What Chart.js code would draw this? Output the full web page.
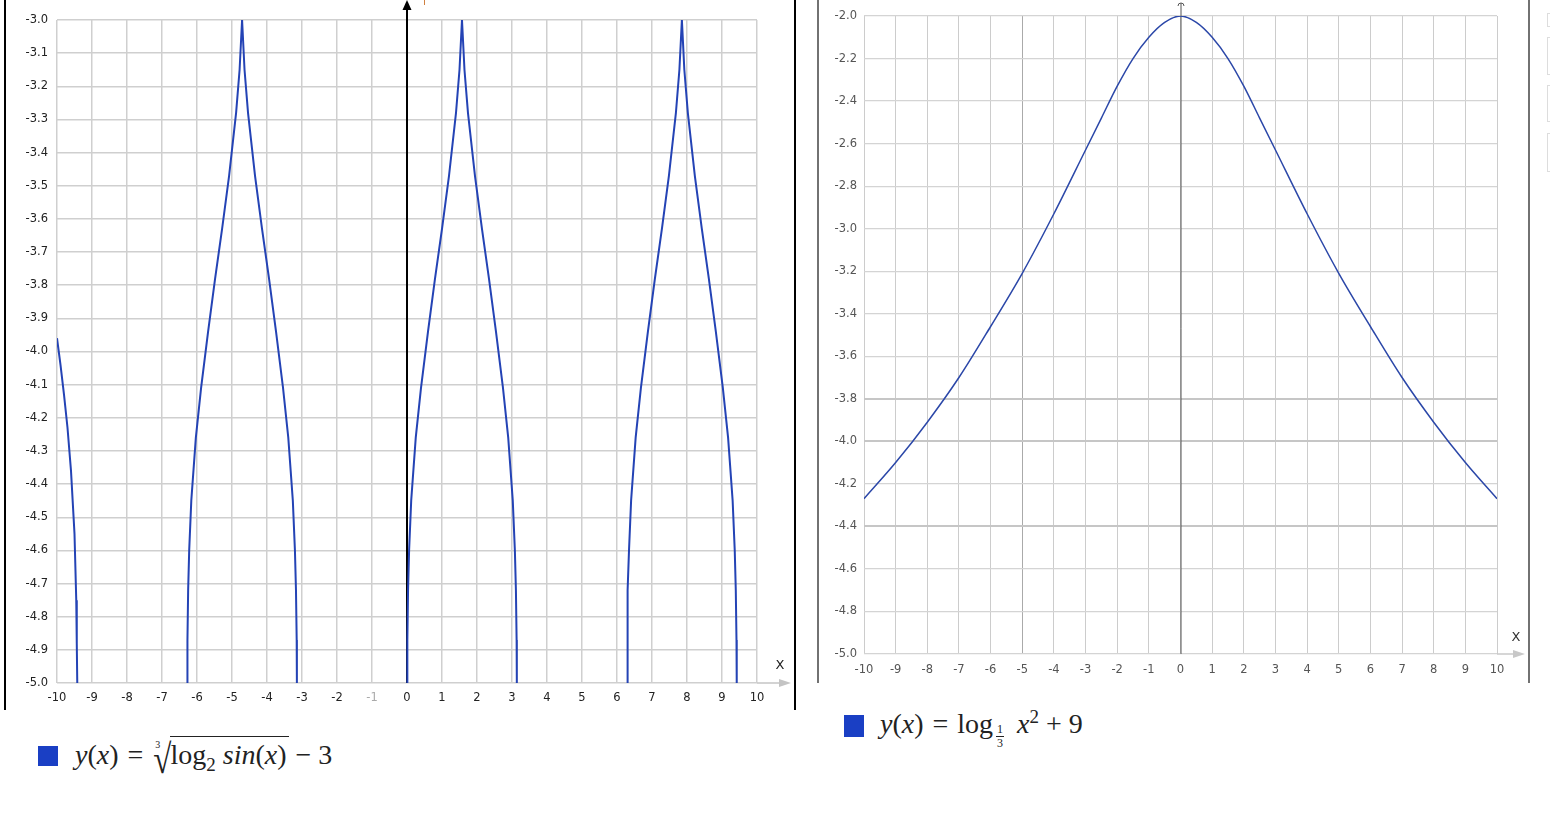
<!DOCTYPE html>
<html lang="en">
<head>
    <meta charset="UTF-8">
    <title>Function graphs</title>
    <script src="https://cdn.jsdelivr.net/npm/chart.js"></script>
    <style>
        body { margin: 0; background: #fff; width: 1550px; height: 819px; overflow: hidden; position: relative; }
        canvas { position: absolute; top: 0; }
        #leftChart { left: 0; }
        #rightChart { left: 800px; }
        .leg { position: absolute; white-space: nowrap; font-family: "Liberation Serif", "DejaVu Serif", serif; color: #222; }
        .sw { position: absolute; width: 20px; height: 20px; background: #1a3fc4; }
        .f { position: absolute; font-size: 28px; }
        .f i { font-style: italic; }
        .rel { margin: 0 9px; }
        .bin { margin: 0 7px; }
        .idx { font-size: 10px; vertical-align: 16px; margin-right: -7px; margin-left: 3px; }
        .sq { font-size: 33px; display: inline-block; transform: scaleY(1.25); vertical-align: -6px; margin-right: 1px; }
        .ov { border-top: 1.5px solid #222; padding-top: 2px; margin-left: -2px; padding-right: 2px; }
        .frac { display: inline-block; vertical-align: -14px; font-size: 12px; text-align: center; line-height: 13px; margin: 0 6px 0 3px; }
        .frac span { display: block; }
        .frac .num { border-bottom: 1px solid #222; padding: 0 1px; }
        .edge { position: absolute; left: 1547px; width: 12px; border: 1px solid #ddd; }
    </style>
</head>
<body>
    <canvas id="leftChart" width="800" height="712"></canvas>
    <canvas id="rightChart" width="750" height="690"></canvas>

    <div class="leg" style="left:38px; top:746px;">
        <span class="sw" style="left:0; top:0;"></span>
        <span class="f" style="left:37px; top:-7px;"><i>y</i>(<i>x</i>)<span class="rel">=</span><sup class="idx">3</sup><span class="sq">√</span><span class="ov">log<sub style="font-size:19px">2</sub> <i>sin</i>(<i>x</i>)</span><span class="bin">−</span>3</span>
    </div>
    <div class="leg" style="left:844px; top:715px;">
        <span class="sw" style="left:0; top:0; height:22px;"></span>
        <span class="f" style="left:36px; top:-9px;"><i>y</i>(<i>x</i>)<span class="rel">=</span>log<span class="frac"><span class="num">1</span><span>3</span></span> <i>x</i><sup style="font-size:19px">2</sup><span class="bin">+</span>9</span>
    </div>

    <div class="edge" style="top:13px; height:12px;"></div>
    <div class="edge" style="top:37px; height:36px;"></div>
    <div class="edge" style="top:85px; height:35px;"></div>
    <div class="edge" style="top:133px; height:37px;"></div>

    <script>
        // left graph: y = cbrt(log2 sin x) - 3 (null = break between branches)
        const leftX = [
            -10, -9.9, -9.8, -9.7, -9.6, -9.5, -9.45, -9.435, -9.421, null,
            -6.279, -6.273, -6.253, -6.223, -6.163, -6.033, -5.883, -5.683, -5.483, -5.283, -5.083, -4.883, -4.783, -4.712,
            -4.642, -4.542, -4.342, -4.142, -3.942, -3.742, -3.542, -3.392, -3.262, -3.202, -3.172, -3.152, -3.146, null,
            0.004, 0.01, 0.03, 0.06, 0.12, 0.25, 0.4, 0.6, 0.8, 1.0, 1.2, 1.4, 1.5, 1.571,
            1.642, 1.742, 1.942, 2.142, 2.342, 2.542, 2.742, 2.892, 3.022, 3.082, 3.112, 3.132, 3.138, null,
            6.287, 6.293, 6.313, 6.343, 6.403, 6.533, 6.683, 6.883, 7.083, 7.283, 7.483, 7.683, 7.783, 7.854,
            7.924, 8.024, 8.224, 8.424, 8.624, 8.824, 9.024, 9.174, 9.304, 9.364, 9.394, 9.414, 9.421
        ];
        const leftY = [
            -3.96, -4.04, -4.13, -4.23, -4.36, -4.55, -4.75, -4.88, -5.0, null,
            -5.0, -4.87, -4.72, -4.60, -4.45, -4.26, -4.11, -3.94, -3.78, -3.63, -3.47, -3.28, -3.15, -3.0,
            -3.15, -3.28, -3.47, -3.63, -3.78, -3.94, -4.11, -4.26, -4.45, -4.60, -4.72, -4.87, -5.0, null,
            -5.0, -4.87, -4.72, -4.60, -4.45, -4.26, -4.11, -3.94, -3.78, -3.63, -3.47, -3.28, -3.15, -3.0,
            -3.15, -3.28, -3.47, -3.63, -3.78, -3.94, -4.11, -4.26, -4.45, -4.60, -4.72, -4.87, -5.0, null,
            -5.0, -4.87, -4.72, -4.60, -4.45, -4.26, -4.11, -3.94, -3.78, -3.63, -3.47, -3.28, -3.15, -3.0,
            -3.15, -3.28, -3.47, -3.63, -3.78, -3.94, -4.11, -4.26, -4.45, -4.60, -4.72, -4.87, -5.0
        ];

        // right graph: y = log_{1/3}(x^2 + 9)
        const rightX = [-10, -9, -8, -7, -6, -5, -4, -3, -2.5, -2, -1.5, -1, -0.5, 0, 0.5, 1, 1.5, 2, 2.5, 3, 4, 5, 6, 7, 8, 9, 10];
        const rightY = [-4.27, -4.10, -3.91, -3.70, -3.46, -3.21, -2.93, -2.63, -2.48, -2.33, -2.20, -2.10, -2.03, -2.00,
                        -2.03, -2.10, -2.20, -2.33, -2.48, -2.63, -2.93, -3.21, -3.46, -3.70, -3.91, -4.10, -4.27];

        // tick labels
        const xTicks = [-10, -9, -8, -7, -6, -5, -4, -3, -2, -1, 0, 1, 2, 3, 4, 5, 6, 7, 8, 9, 10];
        const leftYTicks = [-5.0, -4.9, -4.8, -4.7, -4.6, -4.5, -4.4, -4.3, -4.2, -4.1, -4.0,
                            -3.9, -3.8, -3.7, -3.6, -3.5, -3.4, -3.3, -3.2, -3.1, -3.0];
        const rightYTicks = [-5.0, -4.8, -4.6, -4.4, -4.2, -4.0, -3.8, -3.6, -3.4, -3.2, -3.0,
                             -2.8, -2.6, -2.4, -2.2, -2.0];

        function toPoints(xs, ys) {
            return xs.map((x, i) => (x === null ? { x: NaN, y: null } : { x: x, y: ys[i] }));
        }

        const tickFont = { family: "'DejaVu Sans', sans-serif", size: 11.5 };

        function arrowRight(ctx, x, y, color) {
            ctx.fillStyle = color;
            ctx.beginPath();
            ctx.moveTo(x, y);
            ctx.lineTo(x - 12, y - 4);
            ctx.lineTo(x - 12, y + 4);
            ctx.closePath();
            ctx.fill();
        }

        // axes, arrows and frame that the library does not draw itself
        const leftDecor = {
            id: 'leftDecor',
            beforeDatasetsDraw(chart) {
                const { ctx, chartArea, scales } = chart;
                const x0 = scales.x.getPixelForValue(0);
                ctx.save();
                ctx.strokeStyle = '#000';
                ctx.lineWidth = 2;
                ctx.beginPath();
                ctx.moveTo(x0, chartArea.bottom);
                ctx.lineTo(x0, 8);
                ctx.stroke();
                ctx.fillStyle = '#000';
                ctx.beginPath();
                ctx.moveTo(x0, 0);
                ctx.lineTo(x0 - 4.5, 10);
                ctx.lineTo(x0 + 4.5, 10);
                ctx.closePath();
                ctx.fill();
                ctx.restore();
            },
            afterDraw(chart) {
                const { ctx, chartArea } = chart;
                ctx.save();
                // x axis arrow
                ctx.strokeStyle = '#c4c4c4';
                ctx.lineWidth = 1.5;
                ctx.beginPath();
                ctx.moveTo(chartArea.right, chartArea.bottom);
                ctx.lineTo(chartArea.right + 28, chartArea.bottom);
                ctx.stroke();
                arrowRight(ctx, chartArea.right + 34, chartArea.bottom, '#c4c4c4');
                ctx.fillStyle = '#222';
                ctx.font = "13px 'DejaVu Sans', sans-serif";
                ctx.textAlign = 'center';
                ctx.textBaseline = 'middle';
                ctx.fillText('X', 780, 666);
                // cut-off y label
                ctx.strokeStyle = '#d08040';
                ctx.lineWidth = 1;
                ctx.beginPath();
                ctx.moveTo(424.5, 0);
                ctx.lineTo(424.5, 5);
                ctx.stroke();
                // frame
                ctx.strokeStyle = '#000';
                ctx.lineWidth = 2;
                ctx.beginPath();
                ctx.moveTo(5, 0);
                ctx.lineTo(5, 710);
                ctx.moveTo(795, 0);
                ctx.lineTo(795, 710);
                ctx.stroke();
                ctx.restore();
            }
        };

        const rightDecor = {
            id: 'rightDecor',
            beforeDatasetsDraw(chart) {
                const { ctx, chartArea, scales } = chart;
                const x0 = scales.x.getPixelForValue(0);
                ctx.save();
                ctx.strokeStyle = '#555';
                ctx.lineWidth = 1;
                ctx.beginPath();
                ctx.moveTo(x0 + 0.5, chartArea.bottom);
                ctx.lineTo(x0 + 0.5, 3);
                ctx.stroke();
                ctx.beginPath();
                ctx.arc(x0 + 0.5, 6, 3, Math.PI, 0);
                ctx.stroke();
                ctx.restore();
            },
            afterDraw(chart) {
                const { ctx, chartArea } = chart;
                ctx.save();
                ctx.strokeStyle = '#c8c8c8';
                ctx.lineWidth = 1.5;
                ctx.beginPath();
                ctx.moveTo(chartArea.right, chartArea.bottom);
                ctx.lineTo(chartArea.right + 22, chartArea.bottom);
                ctx.stroke();
                arrowRight(ctx, chartArea.right + 28, chartArea.bottom, '#c8c8c8');
                ctx.fillStyle = '#333';
                ctx.font = "13px 'DejaVu Sans', sans-serif";
                ctx.textAlign = 'center';
                ctx.textBaseline = 'middle';
                ctx.fillText('X', 716, 638);
                ctx.strokeStyle = '#444';
                ctx.lineWidth = 1.5;
                ctx.beginPath();
                ctx.moveTo(18, 0);
                ctx.lineTo(18, 683);
                ctx.moveTo(729, 0);
                ctx.lineTo(729, 683);
                ctx.stroke();
                ctx.restore();
            }
        };

        function setTicks(values) {
            return scale => { scale.ticks = values.map(v => ({ value: v })); };
        }

        new Chart(document.getElementById('leftChart'), {
            type: 'scatter',
            data: {
                datasets: [{
                    data: toPoints(leftX, leftY),
                    showLine: true,
                    spanGaps: false,
                    borderColor: '#2443b5',
                    borderWidth: 2,
                    pointRadius: 0,
                    tension: 0
                }]
            },
            options: {
                responsive: false,
                animation: false,
                devicePixelRatio: 1,
                layout: { padding: { left: 0, right: 43, top: 20, bottom: 0 } },
                plugins: { legend: { display: false }, tooltip: { enabled: false } },
                scales: {
                    x: {
                        type: 'linear', min: -10, max: 10,
                        afterBuildTicks: setTicks(xTicks),
                        afterFit: s => { s.height = 29; },
                        border: { display: false },
                        grid: { color: '#cfcfcf', lineWidth: 1.5, drawTicks: false },
                        ticks: {
                            autoSkip: false, maxRotation: 0, padding: 8, font: tickFont,
                            color: c => (c.tick && c.tick.value === -1 ? '#aaa' : '#222'),
                            callback: v => String(v)
                        }
                    },
                    y: {
                        min: -5, max: -3,
                        afterBuildTicks: setTicks(leftYTicks),
                        afterFit: s => { s.width = 57; },
                        border: { display: false },
                        grid: { color: '#cfcfcf', lineWidth: 1.5, drawTicks: false },
                        ticks: { autoSkip: false, padding: 9, font: tickFont, color: '#222', callback: v => v.toFixed(1) }
                    }
                }
            },
            plugins: [leftDecor]
        });

        const heavyY = [-3.8, -4.0, -4.4];

        new Chart(document.getElementById('rightChart'), {
            type: 'scatter',
            data: {
                datasets: [{
                    data: toPoints(rightX, rightY),
                    showLine: true,
                    borderColor: '#2b47a8',
                    borderWidth: 1.5,
                    pointRadius: 0,
                    cubicInterpolationMode: 'monotone'
                }]
            },
            options: {
                responsive: false,
                animation: false,
                devicePixelRatio: 1,
                layout: { padding: { left: 0, right: 53, top: 16, bottom: 6 } },
                plugins: { legend: { display: false }, tooltip: { enabled: false } },
                scales: {
                    x: {
                        type: 'linear', min: -10, max: 10,
                        afterBuildTicks: setTicks(xTicks),
                        afterFit: s => { s.height = 30; },
                        border: { display: false },
                        grid: {
                            drawTicks: false, lineWidth: 1,
                            color: c => (c.tick && c.tick.value === -5 ? '#aaa' : '#cccccc')
                        },
                        ticks: { autoSkip: false, maxRotation: 0, padding: 9, font: tickFont, color: '#555', callback: v => String(v) }
                    },
                    y: {
                        min: -5, max: -2,
                        afterBuildTicks: setTicks(rightYTicks),
                        afterFit: s => { s.width = 64; },
                        border: { display: false },
                        grid: {
                            drawTicks: false,
                            lineWidth: c => (c.tick && heavyY.some(v => Math.abs(v - c.tick.value) < 1e-6) ? 2 : 1.2),
                            color: c => (c.tick && heavyY.some(v => Math.abs(v - c.tick.value) < 1e-6) ? '#c6c6c6' : '#d4d4d4')
                        },
                        ticks: { autoSkip: false, padding: 7, font: tickFont, color: '#555', callback: v => v.toFixed(1) }
                    }
                }
            },
            plugins: [rightDecor]
        });
    </script>
</body>
</html>
